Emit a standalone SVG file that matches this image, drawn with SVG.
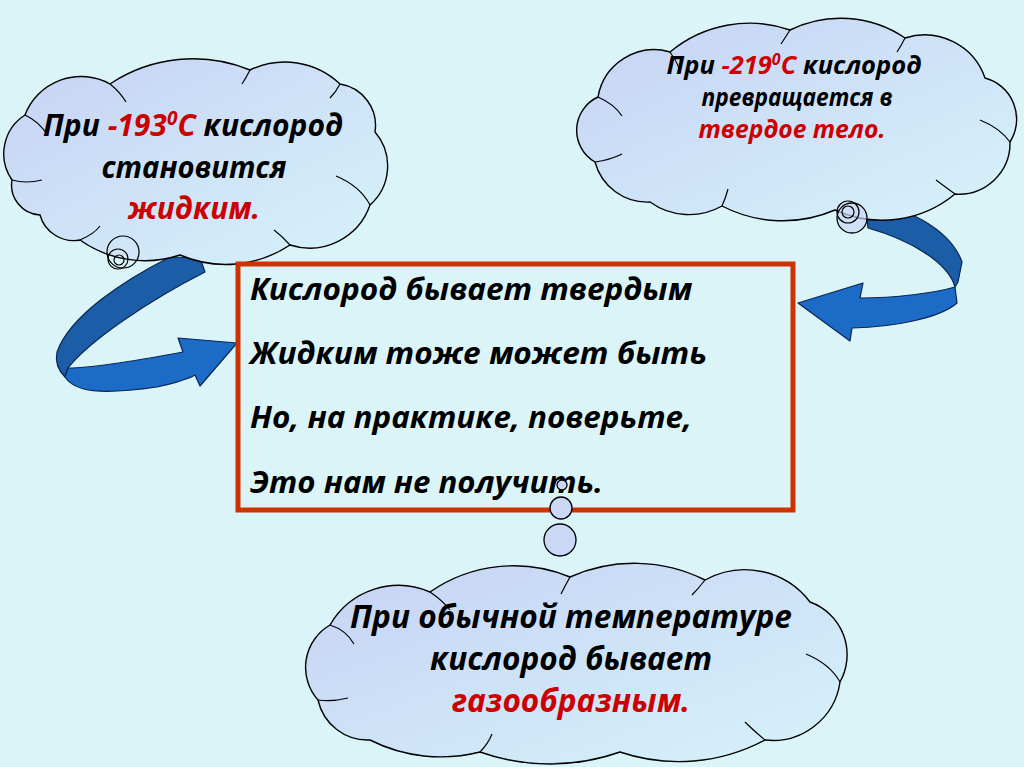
<svg xmlns="http://www.w3.org/2000/svg" width="1024" height="767" viewBox="0 0 1024 767">
<defs>
<linearGradient id="cloudFill" x1="0" y1="0" x2="1" y2="1">
<stop offset="0" stop-color="#C6D2F4"/>
<stop offset="1" stop-color="#D6F3FB"/>
</linearGradient>
<style>
.cloud{fill:url(#cloudFill);stroke:#000;stroke-width:1.4}
.inner{fill:none;stroke:#000;stroke-width:1.2}
.bub{fill:#CAD8F5;stroke:#000;stroke-width:1.3}
.bubline{fill:none;stroke:#000;stroke-width:1.2}
.t{font-family:"Open Sans","Noto Sans","Liberation Sans",sans-serif;font-weight:bold;font-style:italic;fill:#000}
.red{fill:#CC0000}
.dark{fill:#1B5DA6;stroke:#0A2550;stroke-width:1.2;stroke-linejoin:round}
.light{fill:#1C6CC7;stroke:#0A2550;stroke-width:1.2;stroke-linejoin:round}
</style>
</defs>
<rect width="1024" height="767" fill="#DAF4F8"/>

<g id="connectors">
<path class="dark" d="M170,257 L200,258 L205,272 C150,300 90,340 68,368 L65,377 C58,370 55,362 57,352 C70,315 125,280 170,257 Z"/>
<path class="light" d="M65,377 C75,392 100,395 157,387 C175,383 190,378 195,375 L200,386 L237,343 L178,338 L183,352 C140,360 95,368 68,368 Z"/>
<path class="dark" d="M865,198 C905,208 950,228 962,262 L958,282 L955,287 C948,262 910,240 868,228 Z"/>
<path class="light" d="M955,287 L957,303 C940,318 895,327 852,328 L850,341 L798,303 L863,283 L860,298 C895,298 935,293 955,287 Z"/>
</g>

<g id="cloud-left">
<path class="cloud" d="M40,215 A30,30 0 0 1 12,180 A46,46 0 0 1 25,115 A60,60 0 0 1 110,84 A150,150 0 0 1 250,70 A80,80 0 0 1 340,84 A42,42 0 0 1 375,132 A52,52 0 0 1 370,205 A64,64 0 0 1 290,245 A116,116 0 0 1 180,255 A112,112 0 0 1 80,240 A35,35 0 0 1 40,215 Z"/>
<path class="inner" d="M25,115 Q40,122 48,136"/>
<path class="inner" d="M110,84 Q120,92 126,102"/>
<path class="inner" d="M250,70 Q246,78 242,84"/>
<path class="inner" d="M340,84 Q336,92 330,98"/>
<path class="inner" d="M370,205 Q360,186 336,176"/>
<path class="inner" d="M290,245 Q282,236 274,230"/>
<path class="inner" d="M80,240 Q94,234 100,226"/>
<path class="inner" d="M12,180 Q26,184 42,180"/>
<circle class="bubline" cx="123" cy="252" r="16"/>
<circle class="bubline" cx="118" cy="259" r="10"/>
<circle class="bubline" cx="119" cy="260" r="5"/>
<text class="t" x="193" y="136" font-size="30" text-anchor="middle" textLength="300" lengthAdjust="spacingAndGlyphs">При <tspan class="red">-193<tspan font-size="19" dy="-11">0</tspan><tspan dy="11">С</tspan></tspan> кислород</text>
<text class="t" x="194" y="178" font-size="30" text-anchor="middle" textLength="185" lengthAdjust="spacingAndGlyphs">становится</text>
<text class="t red" x="194" y="219" font-size="30" text-anchor="middle" textLength="132" lengthAdjust="spacingAndGlyphs">жидким.</text>
</g>

<g id="cloud-right">
<path class="cloud" d="M650,202 A54,54 0 0 1 595,162 A36.6,36.6 0 0 1 598,97 A57,57 0 0 1 670,52 A124,124 0 0 1 790,30 A115,115 0 0 1 905,38 A64,64 0 0 1 985,78 A42.6,42.6 0 0 1 1010,142 A51,51 0 0 1 955,194 A114,114 0 0 1 835,210 A132,132 0 0 1 722,206 A67,67 0 0 1 650,202 Z"/>
<path class="inner" d="M598,97 Q614,104 622,116"/>
<path class="inner" d="M670,52 Q676,60 680,70"/>
<path class="inner" d="M790,30 Q785,38 781,44"/>
<path class="inner" d="M905,38 Q901,46 897,52"/>
<path class="inner" d="M1010,142 Q1000,128 980,120"/>
<path class="inner" d="M955,194 Q944,186 936,180"/>
<path class="inner" d="M722,206 Q726,197 728,189"/>
<path class="inner" d="M595,162 Q610,160 622,154"/>
<circle class="bub" cx="852" cy="218" r="15" fill="#D4EFFA" fill-opacity="0.7"/>
<circle class="bubline" cx="848" cy="212" r="11"/>
<circle class="bubline" cx="848" cy="212" r="6"/>
<text class="t" x="794" y="74" font-size="25.5" text-anchor="middle" textLength="255" lengthAdjust="spacingAndGlyphs">При <tspan class="red">-219<tspan font-size="16" dy="-9">0</tspan><tspan dy="9">С</tspan></tspan> кислород</text>
<text class="t" x="797" y="106" font-size="25.5" text-anchor="middle" textLength="191" lengthAdjust="spacingAndGlyphs">превращается в</text>
<text class="t red" x="792" y="138" font-size="25.5" text-anchor="middle" textLength="187" lengthAdjust="spacingAndGlyphs">твердое тело.</text>
</g>

<g id="box">
<rect x="238" y="264" width="555" height="246" fill="none" stroke="#CC3300" stroke-width="5"/>
<text class="t" x="250" y="300" font-size="31" textLength="442" lengthAdjust="spacingAndGlyphs">Кислород бывает твердым</text>
<text class="t" x="250" y="364" font-size="31" textLength="457" lengthAdjust="spacingAndGlyphs">Жидким тоже может быть</text>
<text class="t" x="250" y="428" font-size="31" textLength="442" lengthAdjust="spacingAndGlyphs">Но, на практике, поверьте,</text>
<text class="t" x="250" y="493" font-size="31" textLength="353" lengthAdjust="spacingAndGlyphs">Это нам не получить.</text>
</g>

<g id="cloud-bottom">
<circle class="bub" cx="562" cy="485" r="5"/>
<circle class="bub" cx="561" cy="508" r="11"/>
<circle class="bub" cx="560" cy="540" r="16"/>
<path class="cloud" d="M370,740 A51,51 0 0 1 318,700 A49,49 0 0 1 330,625 A79,79 0 0 1 430,592 A147,147 0 0 1 570,577 A158,158 0 0 1 705,580 A82,82 0 0 1 810,602 A56,56 0 0 1 840,682 A68,68 0 0 1 765,740 A183,183 0 0 1 620,752 A210,210 0 0 1 480,752 A158,158 0 0 1 370,740 Z"/>
<path class="inner" d="M330,625 Q346,630 354,644"/>
<path class="inner" d="M430,592 Q442,600 450,610"/>
<path class="inner" d="M570,577 Q565,586 561,594"/>
<path class="inner" d="M705,580 Q698,589 692,595"/>
<path class="inner" d="M840,682 Q830,664 806,654"/>
<path class="inner" d="M765,740 Q753,730 745,722"/>
<path class="inner" d="M480,752 Q488,744 492,734"/>
<path class="inner" d="M318,700 Q332,702 348,698"/>
<text class="t" x="571" y="628" font-size="31.5" text-anchor="middle" textLength="442" lengthAdjust="spacingAndGlyphs">При обычной температуре</text>
<text class="t" x="571" y="670" font-size="31.5" text-anchor="middle" textLength="282" lengthAdjust="spacingAndGlyphs">кислород бывает</text>
<text class="t red" x="571" y="712" font-size="31.5" text-anchor="middle" textLength="238" lengthAdjust="spacingAndGlyphs">газообразным.</text>
</g>
</svg>
